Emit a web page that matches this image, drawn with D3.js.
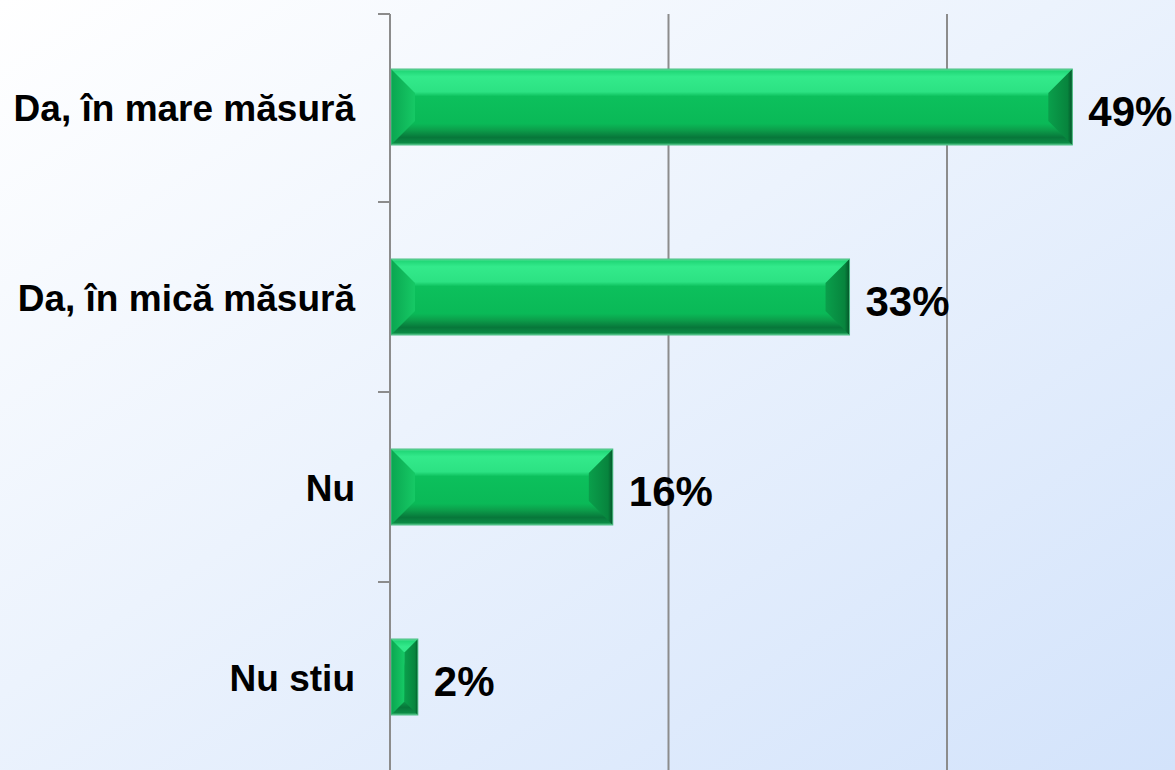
<!DOCTYPE html>
<html>
<head>
<meta charset="utf-8">
<script src="https://cdnjs.cloudflare.com/ajax/libs/d3/7.8.5/d3.min.js"></script>
<style>
  body { margin: 0; overflow: hidden; }
  text { font-family: "Liberation Sans", Arial, sans-serif; font-weight: bold; fill: #000; }
</style>
</head>
<body>
<script>
// data
var categories = ["Da, în mare măsură", "Da, în mică măsură", "Nu", "Nu stiu"];
var values = [49, 33, 16, 2];
var gridValues = [0, 20, 40, 60];

// canvas
var width = 1175;
var height = 770;
var axisX = 390;
var plotTop = 12;
var bevel = 24;

var svg = d3.select("body")
            .append("svg")
            .attr("width", width)
            .attr("height", height);

var defs = svg.append("defs");

// background gradient, white top left to light blue bottom right
var bg = defs.append("linearGradient")
             .attr("id", "bg")
             .attr("x1", "0").attr("y1", "0")
             .attr("x2", "1").attr("y2", "1");
bg.append("stop").attr("offset", "0").attr("stop-color", "#ffffff");
bg.append("stop").attr("offset", "0.45").attr("stop-color", "#ecf3fd");
bg.append("stop").attr("offset", "1").attr("stop-color", "#d3e3fb");

// face of the bars, lit from the top
var face = defs.append("linearGradient")
               .attr("id", "face")
               .attr("x1", "0").attr("y1", "0")
               .attr("x2", "0").attr("y2", "1");
var faceStops = [
  [0, "#5fdc9a"], [0.03, "#22d878"], [0.1, "#33ea8b"], [0.3, "#2ce283"],
  [0.36, "#0cc05c"], [0.72, "#0ab957"], [0.8, "#0c9f4b"], [0.9, "#07773a"],
  [0.97, "#0b8a44"], [1, "#58c88e"]
];
faceStops.forEach(function(s) {
  face.append("stop").attr("offset", s[0]).attr("stop-color", s[1]);
});

// left bevel lighter, right bevel darker
var leftBevel = defs.append("linearGradient")
                    .attr("id", "leftBevel")
                    .attr("x1", "0").attr("y1", "0")
                    .attr("x2", "1").attr("y2", "0");
leftBevel.append("stop").attr("offset", "0").attr("stop-color", "#0aa650");
leftBevel.append("stop").attr("offset", "1").attr("stop-color", "#16c965");

var rightBevel = defs.append("linearGradient")
                     .attr("id", "rightBevel")
                     .attr("x1", "0").attr("y1", "0")
                     .attr("x2", "1").attr("y2", "0");
rightBevel.append("stop").attr("offset", "0").attr("stop-color", "#0a9f4b");
rightBevel.append("stop").attr("offset", "0.8").attr("stop-color", "#07843d");
rightBevel.append("stop").attr("offset", "1").attr("stop-color", "#04552a");

svg.append("rect")
   .attr("width", width)
   .attr("height", height)
   .attr("fill", "url(#bg)");

// scales
var scaleX = d3.scaleLinear()
               .domain([0, 40])
               .range([axisX, 947]);

var scaleY = d3.scaleBand()
               .domain(categories)
               .range([plotTop, plotTop + 4 * 190])
               .paddingInner(0.6)
               .paddingOuter(0.3);

// vertical gridlines
svg.selectAll(".grid")
   .data(gridValues.slice(1))
   .enter()
   .append("line")
   .attr("class", "grid")
   .attr("x1", function(d) { return scaleX(d); })
   .attr("x2", function(d) { return scaleX(d); })
   .attr("y1", 14)
   .attr("y2", height)
   .attr("stroke", "#8c8c8c")
   .attr("stroke-width", 2);

// bars
var bars = svg.selectAll(".bar")
              .data(values)
              .enter()
              .append("g")
              .attr("class", "bar");

function barBox(d, i) {
  var x0 = scaleX(0) + 1;
  var x1 = scaleX(d);
  var y0 = scaleY(categories[i]);
  var y1 = y0 + scaleY.bandwidth();
  var b = Math.min(bevel, (x1 - x0) / 2);
  return {x0: x0, x1: x1, y0: y0, y1: y1, b: b};
}

bars.append("rect")
    .attr("x", function(d, i) { return barBox(d, i).x0; })
    .attr("y", function(d, i) { return barBox(d, i).y0; })
    .attr("width", function(d, i) { var r = barBox(d, i); return r.x1 - r.x0; })
    .attr("height", scaleY.bandwidth())
    .attr("fill", "url(#face)");

bars.append("polygon")
    .attr("points", function(d, i) {
      var r = barBox(d, i);
      return [[r.x0, r.y0], [r.x0 + r.b, r.y0 + r.b],
              [r.x0 + r.b, r.y1 - r.b], [r.x0, r.y1]].join(" ");
    })
    .attr("fill", "url(#leftBevel)");

bars.append("polygon")
    .attr("points", function(d, i) {
      var r = barBox(d, i);
      return [[r.x1, r.y0], [r.x1 - r.b, r.y0 + r.b],
              [r.x1 - r.b, r.y1 - r.b], [r.x1, r.y1]].join(" ");
    })
    .attr("fill", "url(#rightBevel)");

bars.append("rect")
    .attr("x", function(d, i) { return barBox(d, i).x0; })
    .attr("y", function(d, i) { return barBox(d, i).y0; })
    .attr("width", function(d, i) { var r = barBox(d, i); return r.x1 - r.x0; })
    .attr("height", scaleY.bandwidth())
    .attr("fill", "none")
    .attr("stroke", "#4fbf85")
    .attr("stroke-width", 1);

// value labels
svg.selectAll(".value")
   .data(values)
   .enter()
   .append("text")
   .attr("class", "value")
   .attr("x", function(d) { return scaleX(d) + 16; })
   .attr("y", function(d, i) { return scaleY(categories[i]) + scaleY.bandwidth() / 2; })
   .attr("dy", "0.45em")
   .style("font-size", "42px")
   .text(function(d) { return d + "%"; });

// category axis: line, ticks at band edges and labels
svg.append("line")
   .attr("x1", axisX)
   .attr("x2", axisX)
   .attr("y1", 14)
   .attr("y2", height)
   .attr("stroke", "#8c8c8c")
   .attr("stroke-width", 2);

var edges = d3.range(categories.length + 1).map(function(i) {
  return plotTop + i * scaleY.step();
});
edges[0] = 14;

svg.selectAll(".tick")
   .data(edges)
   .enter()
   .append("line")
   .attr("class", "tick")
   .attr("x1", axisX - 12)
   .attr("x2", axisX)
   .attr("y1", function(d) { return d; })
   .attr("y2", function(d) { return d; })
   .attr("stroke", "#8c8c8c")
   .attr("stroke-width", 2);

svg.selectAll(".label")
   .data(categories)
   .enter()
   .append("text")
   .attr("class", "label")
   .attr("x", axisX - 35)
   .attr("y", function(d) { return scaleY(d) + scaleY.bandwidth() / 2; })
   .attr("dy", "0.38em")
   .attr("text-anchor", "end")
   .style("font-size", "37px")
   .text(function(d) { return d; });
</script>
</body>
</html>
